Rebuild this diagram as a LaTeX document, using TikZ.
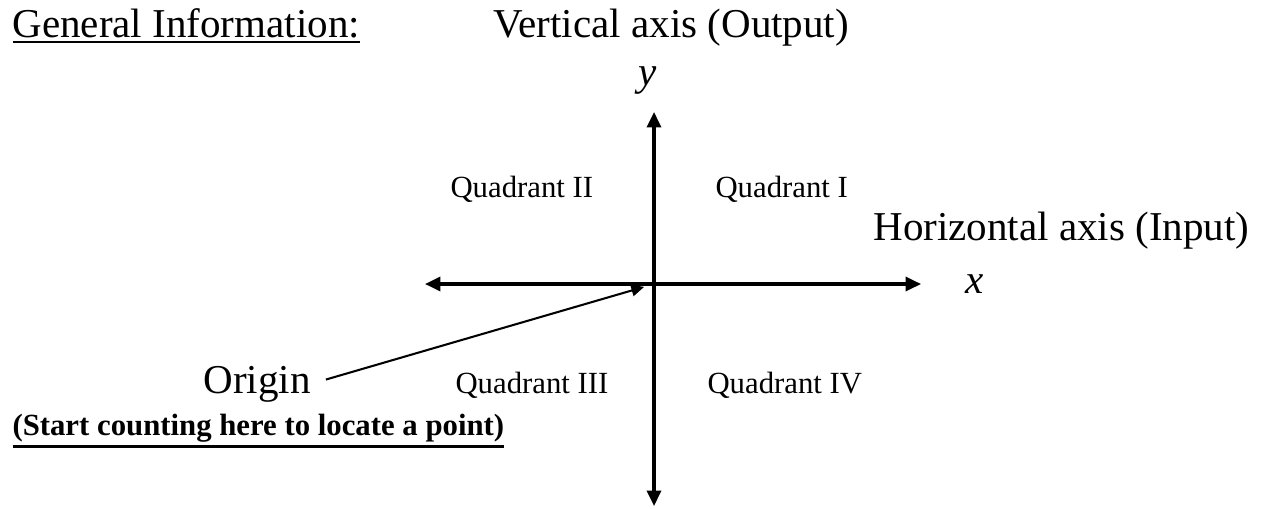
\documentclass[tikz,border=0pt]{standalone}
\usepackage{fontspec}
\setmainfont{Liberation Serif}
\usetikzlibrary{arrows.meta}
\newcommand{\ulthick}[2]{\vtop{\hbox{#2}\kern1.2pt\hrule height #1}}
\begin{document}
\begin{tikzpicture}[
  x=0.39pt, y=-0.39pt,
  big/.style={font=\fontsize{16}{19}\selectfont, inner sep=0pt},
  small/.style={font=\fontsize{12}{14}\selectfont, inner sep=0pt},
  axis/.style={line width=1.2pt, {Triangle[length=6pt,width=5.5pt]}-{Triangle[length=6pt,width=5.5pt]}},
  pointer/.style={line width=0.8pt, -{Triangle[length=5pt,width=4.5pt]}}
]
\useasboundingbox (0,0) rectangle (1267,508);
\coordinate (O) at (654,284);
\coordinate (top) at (654,112);
\coordinate (bottom) at (654,506);
\coordinate (left) at (425,284);
\coordinate (right) at (921,284);
\draw[axis] (bottom) -- (top);
\draw[axis] (left) -- (right);
\node[big, anchor=base west] (title) at (12,37) {\ulthick{0.8pt}{General Information:}};
\node[big, anchor=base west] (vlabel) at (493,37) {Vertical axis (Output)};
\node[big, anchor=base] (ylab) at (648,85) {\textit{y}};
\node[big, anchor=base west] (hlabel) at (873,240) {Horizontal axis (Input)};
\node[big, anchor=base] (xlab) at (975,293) {\textit{x}};
\node[small, anchor=base west] (q2) at (450,197) {Quadrant II};
\node[small, anchor=base west] (q1) at (715,197) {Quadrant I};
\node[small, anchor=base west] (q3) at (455,393) {Quadrant III};
\node[small, anchor=base west] (q4) at (707,393) {Quadrant IV};
\node[big, anchor=base west] (origin) at (203,393) {Origin};
\node[small, anchor=base west] (hint) at (12,435) {\ulthick{1.1pt}{\textbf{(Start counting here to locate a point)}}};
\draw[pointer, shorten <=6pt, shorten >=4pt] (origin.east) -- (O);
\end{tikzpicture}
\end{document}
